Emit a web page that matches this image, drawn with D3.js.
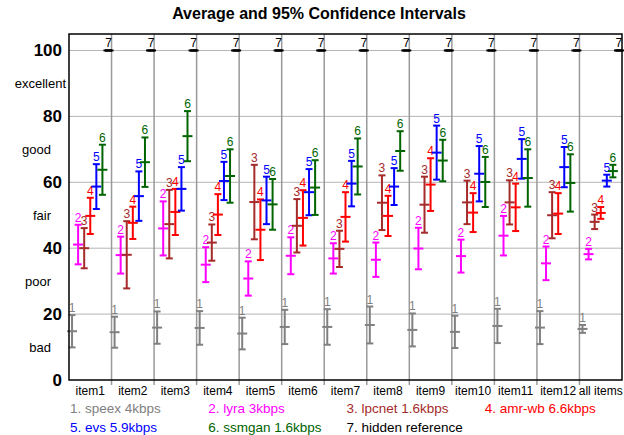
<!DOCTYPE html>
<html>
<head>
<meta charset="utf-8">
<script src="https://cdnjs.cloudflare.com/ajax/libs/d3/7.8.5/d3.min.js"></script>
<style>
  body { margin: 0; background: #fff; }
  text { font-family: "Liberation Sans", Arial, sans-serif; }
</style>
</head>
<body>
<div id="my_dataviz"></div>
<script>

// categories and systems
var items = ["item1", "item2", "item3", "item4", "item5", "item6", "item7", "item8", "item9", "item10", "item11", "item12", "all items"]
var systems = ["1. speex 4kbps", "2. lyra 3kbps", "3. lpcnet 1.6kbps", "4. amr-wb 6.6kbps", "5. evs 5.9kbps", "6. ssmgan 1.6kbps", "7. hidden reference"]
var sysColors = ["#808080", "#ff00ff", "#a52a2a", "#ff0000", "#0000ff", "#006400", "#000000"]

// means and 95% confidence half-widths, one array per system
var speexMean = [14.8, 14.5, 15.9, 15.8, 14.1, 16.1, 16.1, 16.7, 15.2, 14.6, 16.4, 15.9, 15.5]
var speexCI = [4.9, 4.7, 4.9, 5.1, 4.8, 5.2, 5.4, 5.6, 5.0, 4.9, 5.2, 5.0, 1.2]
var lyraMean = [41.1, 37.9, 46.0, 35.0, 30.8, 37.7, 36.9, 36.5, 39.9, 37.6, 43.8, 35.4, 38.2]
var lyraCI = [6.0, 5.6, 8.2, 5.3, 5.2, 5.6, 4.6, 5.2, 6.3, 5.0, 6.0, 5.1, 1.6]
var lpcnetMean = [40.0, 38.0, 47.3, 41.7, 54.0, 46.8, 39.8, 53.8, 53.2, 53.9, 53.9, 50.0, 48.0]
var lpcnetCI = [6.1, 10.2, 10.4, 5.5, 11.3, 8.1, 5.5, 8.3, 8.5, 6.6, 6.7, 7.0, 2.2]
var amrMean = [49.8, 47.7, 51.0, 50.2, 45.6, 49.2, 49.5, 49.8, 59.3, 50.8, 52.4, 50.5, 50.7]
var amrCI = [5.5, 4.9, 7.0, 6.2, 9.2, 8.4, 7.5, 6.1, 8.0, 5.9, 7.2, 6.2, 1.8]
var evsMean = [58.7, 55.8, 58.0, 60.4, 54.5, 57.0, 59.6, 58.7, 69.0, 62.6, 67.1, 64.6, 60.5]
var evsCI = [6.8, 7.5, 6.6, 5.8, 7.2, 7.0, 6.9, 5.6, 8.2, 8.4, 6.0, 6.1, 1.8]
var ssmganMean = [63.8, 66.1, 74.0, 61.9, 53.3, 58.4, 64.8, 69.5, 66.6, 60.1, 61.3, 59.8, 63.4]
var ssmganCI = [7.6, 7.5, 7.6, 8.1, 7.7, 8.3, 8.5, 6.0, 6.3, 7.6, 8.7, 8.7, 1.9]
var refMean = [100, 100, 100, 100, 100, 100, 100, 100, 100, 100, 100, 100, 100]
var refCI = [0, 0, 0, 0, 0, 0, 0, 0, 0, 0, 0, 0, 0]

var yTicks = [0, 20, 40, 60, 80, 100]
var qualityTicks = [10, 30, 50, 70, 90]
var qualityLabels = ["bad", "poor", "fair", "good", "excellent"]

var allMeans = [speexMean, lyraMean, lpcnetMean, amrMean, evsMean, ssmganMean, refMean]
var allCIs = [speexCI, lyraCI, lpcnetCI, amrCI, evsCI, ssmganCI, refCI]

// flatten into one row per bar
var data = []
allMeans.forEach(function(m, s) {
  items.forEach(function(it, i) {
    data.push({ item: it, sys: s, mean: m[i], ci: allCIs[s][i] })
  })
})

// set the dimensions and margins of the graph
var W = 624, H = 435
var margin = { top: 34, right: 2, bottom: 55, left: 69 },
  width = W - margin.left - margin.right,
  height = H - margin.top - margin.bottom;

var svgRoot = d3.select("#my_dataviz")
  .append("svg")
  .attr("width", W)
  .attr("height", H)
var svg = svgRoot.append("g")
  .attr("transform", "translate(" + margin.left + "," + margin.top + ")");

var x = d3.scaleBand().domain(items).range([0, width])
var xs = d3.scaleBand().domain(d3.range(7)).range([0, x.bandwidth()])
var y = d3.scaleLinear().domain([0, 105]).range([height, 0])

//------------------------------------------------------------------------//
// grid
svg.append("g")
  .selectAll("line")
  .data(yTicks.filter(function(d) { return d > 0 }))
  .enter().append("line")
  .attr("x1", 0).attr("x2", width)
  .attr("y1", function(d) { return y(d) })
  .attr("y2", function(d) { return y(d) })
  .attr("stroke", "#b4b4b4")
  .attr("stroke-width", 1)

svg.append("g")
  .selectAll("line")
  .data(items.slice(1))
  .enter().append("line")
  .attr("x1", function(d) { return x(d) })
  .attr("x2", function(d) { return x(d) })
  .attr("y1", 0).attr("y2", height + 5)
  .attr("stroke", "#9a9a9a")
  .attr("stroke-width", 1.5)

// y axis numbers
svg.append("g")
  .call(d3.axisLeft(y).tickValues(yTicks).tickSize(0).tickPadding(7))
  .call(function(g) { g.select(".domain").remove() })
  .selectAll("text")
  .style("font-family", "Liberation Sans, Arial, sans-serif")
  .style("font-size", "17px")
  .style("font-weight", "bold")
  .attr("fill", "#000")

// quality words
svg.append("g")
  .selectAll("text")
  .data(qualityTicks)
  .enter().append("text")
  .attr("x", function(d, i) { return qualityLabels[i] == "excellent" ? -3 : -18 })
  .attr("y", function(d) { return y(d) })
  .attr("dy", "0.35em")
  .attr("text-anchor", "end")
  .style("font-size", "13px")
  .text(function(d, i) { return qualityLabels[i] })

// x labels
svg.append("g")
  .selectAll("text")
  .data(items)
  .enter().append("text")
  .attr("x", function(d) { return x(d) + x.bandwidth() / 2 })
  .attr("y", height + 15)
  .attr("text-anchor", "middle")
  .style("font-size", "12px")
  .text(function(d) { return d })

//------------------------------------------------------------------------//
// error bars
var cx = function(d) { return x(d.item) + xs(d.sys) + xs.bandwidth() / 2 }
var bars = svg.append("g").selectAll("g")
  .data(data)
  .enter().append("g")
  .attr("stroke", function(d) { return sysColors[d.sys] })
  .attr("stroke-width", 2)

bars.append("line")
  .attr("x1", cx).attr("x2", cx)
  .attr("y1", function(d) { return y(d.mean + d.ci) })
  .attr("y2", function(d) { return y(d.mean - d.ci) })
bars.append("line") // upper cap
  .attr("x1", function(d) { return cx(d) - 3.5 })
  .attr("x2", function(d) { return cx(d) + 3.5 })
  .attr("y1", function(d) { return y(d.mean + d.ci) })
  .attr("y2", function(d) { return y(d.mean + d.ci) })
bars.append("line") // lower cap
  .attr("x1", function(d) { return cx(d) - 3.5 })
  .attr("x2", function(d) { return cx(d) + 3.5 })
  .attr("y1", function(d) { return y(d.mean - d.ci) })
  .attr("y2", function(d) { return y(d.mean - d.ci) })
bars.append("line") // mean
  .attr("x1", function(d) { return cx(d) - 5 })
  .attr("x2", function(d) { return cx(d) + 5 })
  .attr("y1", function(d) { return y(d.mean) })
  .attr("y2", function(d) { return y(d.mean) })

bars.append("text")
  .attr("x", cx)
  .attr("y", function(d) { return y(d.mean + d.ci) - 3 })
  .attr("text-anchor", "middle")
  .attr("stroke", "none")
  .attr("fill", function(d) { return sysColors[d.sys] })
  .style("font-size", "12px")
  .text(function(d) { return d.sys + 1 })

// frame
svg.append("rect")
  .attr("width", width).attr("height", height)
  .attr("fill", "none")
  .attr("stroke", "#000")
  .attr("stroke-width", 1.5)

//------------------------------------------------------------------------//
// title and legend
svgRoot.append("text")
  .attr("x", 319).attr("y", 19)
  .attr("text-anchor", "middle")
  .style("font-size", "16px")
  .style("font-weight", "bold")
  .text("Average and 95% Confidence Intervals")

svgRoot.append("g")
  .selectAll("text")
  .data(systems)
  .enter().append("text")
  .attr("x", function(d, i) { return margin.left + 1 + (i % 4) * width / 4 })
  .attr("y", function(d, i) { return i < 4 ? 413 : 432 })
  .attr("fill", function(d, i) { return sysColors[i] })
  .style("font-size", "13.5px")
  .text(function(d) { return d })

</script>
</body>
</html>
